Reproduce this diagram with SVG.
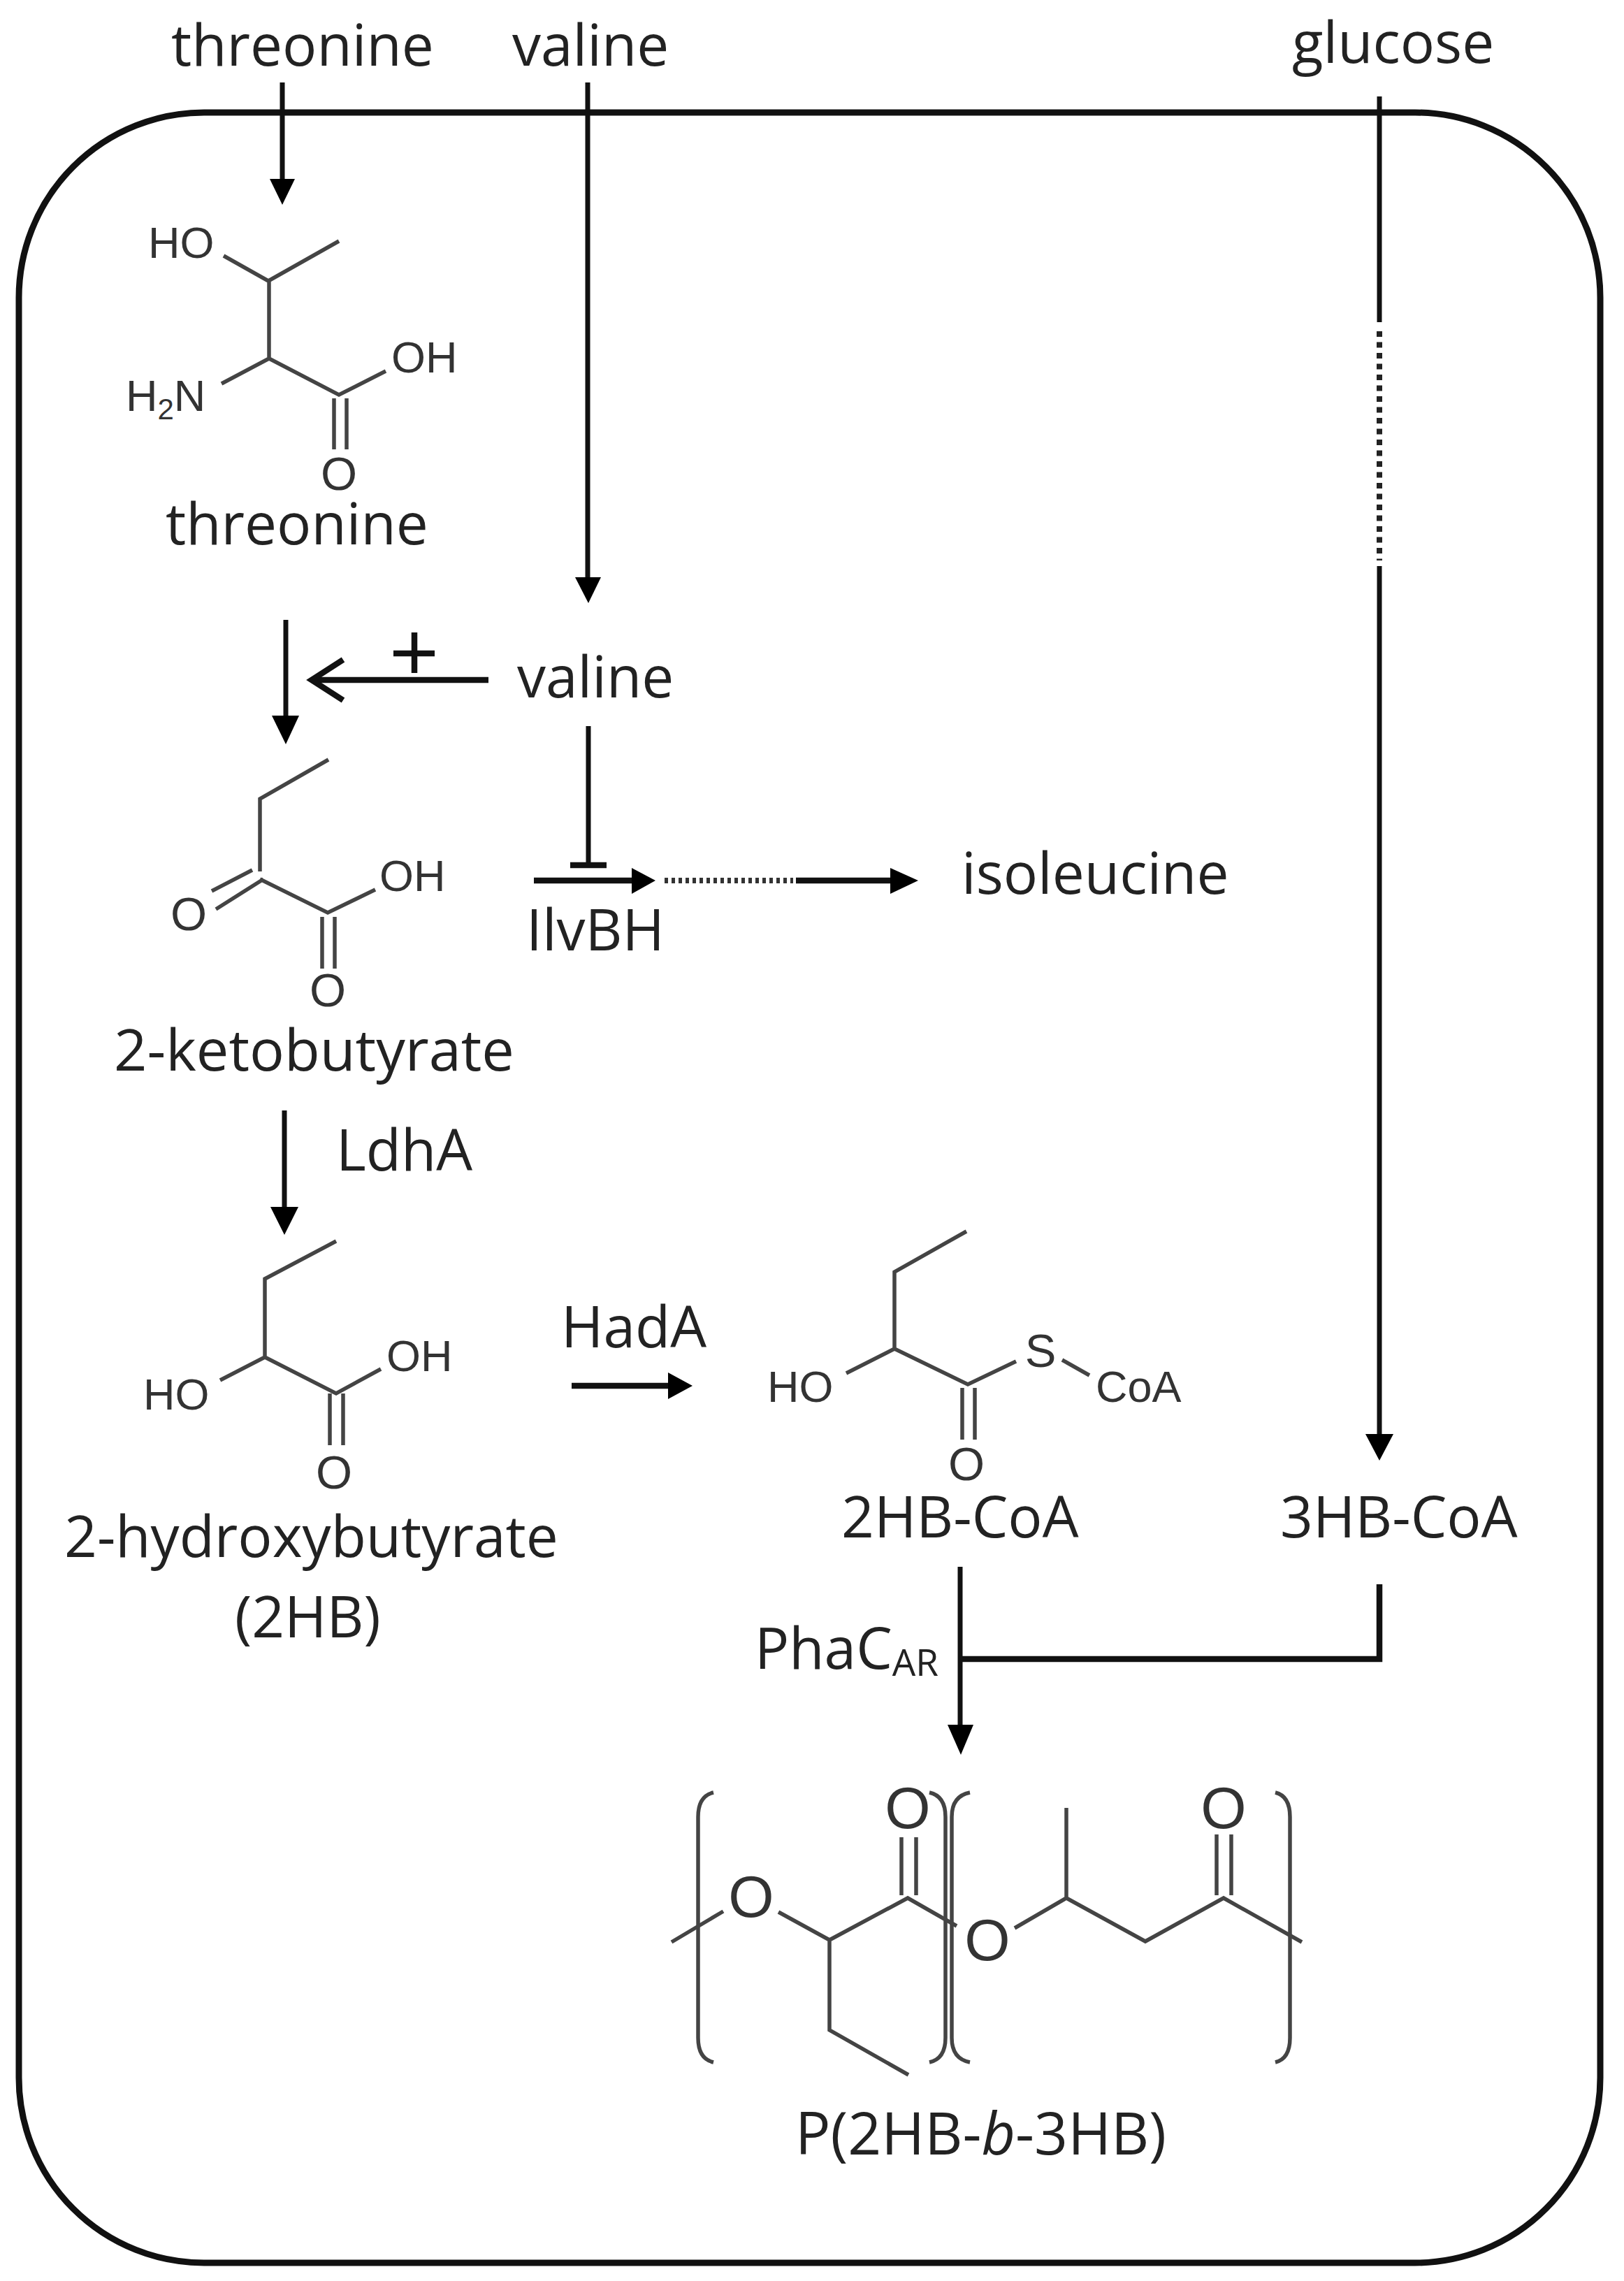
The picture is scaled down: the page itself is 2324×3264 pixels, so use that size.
<svg xmlns="http://www.w3.org/2000/svg" width="2324" height="3264" viewBox="0 0 2324 3264">
<style>
.l{font-family:"Open Sans","Noto Sans","Liberation Sans",sans-serif;font-size:82px;fill:#222}
.a{font-family:"Liberation Sans",Arial,sans-serif;font-size:63px;fill:#333}
.o{font-size:67px}
.p{font-size:84px}
.b{fill:none;stroke:#444;stroke-width:5.5}
.c{fill:none;stroke:#111;stroke-width:7}
.t{fill:none;stroke:#111;stroke-width:8.5}
.d{fill:none;stroke:#222;stroke-width:8;stroke-dasharray:8 7.5}
.e{fill:none;stroke:#333;stroke-width:8;stroke-dasharray:5 5}
.h{fill:#000}
.m{text-anchor:middle}
</style>
<rect id="cell" x="27" y="161" width="2263" height="3077" rx="265" ry="265" fill="none" stroke="#111" stroke-width="9"/>
<g id="connectors">
<path class="c" d="M404 118V262"/><path class="h" d="M386 256h36l-18 37z"/>
<path class="c" d="M841 118V832"/><path class="h" d="M823 826h37l-18 37z"/>
<path class="c" d="M1974 138V461"/><path class="d" d="M1974 474V802"/><path class="c" d="M1974 810V2058"/><path class="h" d="M1954 2052h40l-20 38z"/>
<path class="c" d="M409 887V1030"/><path class="h" d="M389 1024h39l-19 41z"/>
<path class="t" d="M699 973H448"/><path class="t" d="M491 944L446 973L491 1002"/>
<path class="t" d="M593 905V963M563 935H622"/>
<path class="c" d="M842 1039V1238"/><path class="t" d="M816 1238H868"/>
<path class="t" d="M764 1260H910"/><path class="h" d="M904 1242L938 1260L904 1279z"/>
<path class="e" d="M951 1260H1135"/>
<path class="t" d="M1139 1260H1280"/><path class="h" d="M1274 1242L1314 1260L1274 1279z"/>
<path class="c" d="M407 1589V1733"/><path class="h" d="M387 1727h40l-20 40z"/>
<path class="t" d="M818 1983H962"/><path class="h" d="M956 1964L991 1983L956 2002z"/>
<path class="c" d="M1374 2242V2474"/><path class="h" d="M1356 2468h37l-18 43z"/>
<path class="t" d="M1974 2267V2374H1373"/>
</g>
<g id="threonine-out"><text class="l" x="245" y="94">threonine</text></g>
<g id="valine-out"><text class="l" x="733" y="94">valine</text></g>
<g id="glucose-out"><text class="l" x="1849" y="90">glucose</text></g>
<g id="threonine">
<path class="b" d="M320 366L384 402L485 345M385 402V513L317 549M385 513L485 565L552 531M478 570V643M496 570V643"/>
<text class="a" x="212" y="369">HO</text><text class="a" x="180" y="588">H<tspan font-size="42" dy="12">2</tspan><tspan dy="-12">N</tspan></text><text class="a" x="560" y="533">OH</text><text class="a o m" x="485" y="701">O</text>
<text class="l" x="237" y="779">threonine</text>
</g>
<g id="valine"><text class="l" x="740" y="998">valine</text></g>
<g id="ketobutyrate">
<path class="b" d="M470 1087L372 1143V1247M361 1245L303 1275M377 1258L309 1301M372 1258L469 1306L537 1273M461 1312V1386M479 1312V1386"/>
<text class="a" x="543" y="1275">OH</text><text class="a o m" x="270" y="1331">O</text><text class="a o m" x="469" y="1440">O</text>
<text class="l" x="163" y="1532" style="font-size:83px">2-ketobutyrate</text>
</g>
<g id="ilvbh"><text class="l" x="753" y="1360">IlvBH</text></g>
<g id="isoleucine"><text class="l" x="1376" y="1279">isoleucine</text></g>
<g id="ldha"><text class="l" x="481" y="1675">LdhA</text></g>
<g id="hydroxybutyrate">
<path class="b" d="M481 1776L379 1830V1942L315 1975M379 1942L481 1994L545 1959M472 1994V2068M491 1994V2068"/>
<text class="a" x="205" y="2017">HO</text><text class="a" x="553" y="1962">OH</text><text class="a o m" x="478" y="2130">O</text>
<text class="l" x="92" y="2228">2-hydroxybutyrate</text>
<text class="l" x="336" y="2343">(2HB)</text>
</g>
<g id="hada"><text class="l" x="803" y="1928">HadA</text></g>
<g id="hb2-coa">
<path class="b" d="M1383 1762L1280 1820V1930L1211 1965M1280 1930L1385 1981L1454 1948M1520 1946L1559 1968M1377 1986V2060M1395 1986V2060"/>
<text class="a" x="1098" y="2006">HO</text><text class="a o m" x="1489" y="1956">S</text><text class="a" x="1568" y="2006">CoA</text><text class="a o m" x="1383" y="2118">O</text>
<text class="l" x="1204" y="2200">2HB-CoA</text>
</g>
<g id="hb3-coa"><text class="l" x="1832" y="2200">3HB-CoA</text></g>
<g id="phac"><text class="l" x="1080" y="2388">PhaC<tspan font-size="53" dy="10">AR</tspan></text></g>
<g id="polymer">
<path class="b" d="M1021 2565Q999 2570 999 2600V2916Q999 2946 1021 2951M1330 2565Q1353 2570 1353 2600V2916Q1353 2946 1330 2951M1388 2565Q1362 2570 1362 2600V2916Q1362 2946 1388 2951M1825 2565Q1846 2570 1846 2600V2916Q1846 2946 1825 2951"/>
<path class="b" d="M961 2779L1035 2735M1114 2736L1187 2776L1299 2716L1369 2756M1290 2629V2712M1311 2629V2712M1187 2776V2905L1300 2969M1452 2759L1526 2716V2587M1526 2716L1639 2778L1751 2716L1863 2779M1741 2625V2712M1762 2625V2712"/>
<text class="a p m" x="1075" y="2743">O</text><text class="a p m" x="1299" y="2616">O</text><text class="a p m" x="1413" y="2805">O</text><text class="a p m" x="1751" y="2616">O</text>
<text class="l" x="1138" y="3083" style="font-size:84px">P(2HB-<tspan font-style="italic">b</tspan>-3HB)</text>
</g>
</svg>
